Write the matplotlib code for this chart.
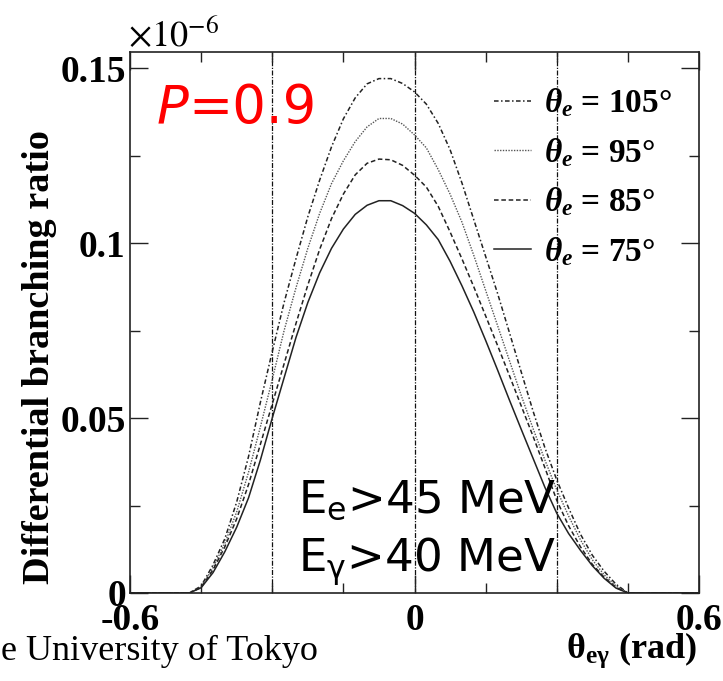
import numpy as np
import matplotlib
matplotlib.use("Agg")
import matplotlib.pyplot as plt
from matplotlib.font_manager import FontProperties
from matplotlib.ticker import FixedLocator

plt.rcParams["axes.unicode_minus"] = False
plt.rcParams["mathtext.fontset"] = "custom"
plt.rcParams["mathtext.rm"] = "Liberation Serif:bold"
plt.rcParams["mathtext.bf"] = "Liberation Serif:bold"
plt.rcParams["mathtext.it"] = "Liberation Serif:italic:bold"

# opening angle between e and gamma (rad)
theta_eg = [-0.600, -0.475, -0.450, -0.425, -0.400, -0.375, -0.350, -0.325, -0.300, -0.275,
            -0.250, -0.225, -0.200, -0.175, -0.150, -0.125, -0.100, -0.075, -0.050, -0.025,
            0.000, 0.025, 0.050, 0.075, 0.100, 0.125, 0.150, 0.175, 0.200, 0.225,
            0.250, 0.275, 0.300, 0.325, 0.350, 0.375, 0.400, 0.425, 0.450, 0.600]

# differential branching ratio (x 1e-6) for each electron angle
br_105 = [0, 0, 0.0020, 0.0080, 0.0155, 0.0260, 0.0390, 0.0545, 0.0690, 0.0830,
          0.0955, 0.1075, 0.1180, 0.1275, 0.1355, 0.1415, 0.1455, 0.1470, 0.1470, 0.1456,
          0.1432, 0.1397, 0.1342, 0.1267, 0.1172, 0.1067, 0.0962, 0.0857, 0.0745, 0.0632,
          0.0520, 0.0415, 0.0323, 0.0243, 0.0168, 0.0108, 0.0062, 0.0025, 0, 0]
br_95 = [0, 0, 0.0017, 0.0072, 0.0142, 0.0232, 0.0345, 0.0475, 0.0610, 0.0750,
         0.0872, 0.0985, 0.1085, 0.1170, 0.1235, 0.1290, 0.1332, 0.1356, 0.1356, 0.1340,
         0.1309, 0.1272, 0.1210, 0.1140, 0.1060, 0.0965, 0.0865, 0.0765, 0.0665, 0.0565,
         0.0470, 0.0380, 0.0295, 0.0220, 0.0152, 0.0095, 0.0052, 0.0020, 0, 0]
br_85 = [0, 0, 0.0016, 0.0066, 0.0132, 0.0212, 0.0310, 0.0425, 0.0540, 0.0655,
         0.0770, 0.0880, 0.0982, 0.1070, 0.1140, 0.1195, 0.1228, 0.1240, 0.1238, 0.1222,
         0.1194, 0.1160, 0.1105, 0.1032, 0.0955, 0.0875, 0.0792, 0.0708, 0.0622, 0.0535,
         0.0448, 0.0358, 0.0265, 0.0192, 0.0132, 0.0082, 0.0045, 0.0016, 0, 0]
br_75 = [0, 0, 0.0015, 0.0058, 0.0118, 0.0188, 0.0272, 0.0380, 0.0500, 0.0615,
         0.0730, 0.0830, 0.0915, 0.0985, 0.1040, 0.1082, 0.1108, 0.1121, 0.1121, 0.1107,
         0.1085, 0.1052, 0.1010, 0.0948, 0.0878, 0.0803, 0.0722, 0.0638, 0.0552, 0.0468,
         0.0385, 0.0302, 0.0228, 0.0170, 0.0122, 0.0078, 0.0042, 0.0014, 0, 0]

electron_angles = ["105", "95", "85", "75"]
guide_angles = [-0.3, 0.0, 0.3]

x_major = [-0.6, 0.0, 0.6]
x_major_labels = ["-0.6", "0", "0.6"]
x_minor = [-0.45, -0.3, -0.15, 0.15, 0.3, 0.45]
y_major = [0.0, 0.05, 0.1, 0.15]
y_major_labels = ["0", "0.05", "0.1", "0.15"]
y_minor = [0.025, 0.075, 0.125]

W, H = 723, 681
fig = plt.figure(figsize=(W / 100, H / 100), dpi=100)
ax = fig.add_axes([130 / W, 1 - 593 / H, 569 / W, 541 / H])

curve_styles = [
    dict(linestyle=(0, (3.0, 1.6, 1.0, 1.6)), color="#222222", lw=1.1),
    dict(linestyle=(0, (1.0, 1.0)), color="#555555", lw=1.0),
    dict(linestyle=(0, (3.0, 1.8)), color="#222222", lw=1.1),
    dict(linestyle="-", color="#222222", lw=1.1),
]
series = [br_105, br_95, br_85, br_75]

handles = []
for vals, ang, st in zip(series, electron_angles, curve_styles):
    h, = ax.plot(theta_eg, vals, label=r"$\theta_e$ = " + ang + "°", **st)
    handles.append(h)

for g in guide_angles:
    ax.axvline(g, color="#111111", lw=0.9, linestyle=(0, (4.0, 1.2, 1.0, 1.2)), zorder=1)

ax.set_xlim(-0.6, 0.6)
ax.set_ylim(0, 0.1546)

tick_font = FontProperties(family="Liberation Serif", weight="bold", size=27)

ax.xaxis.set_major_locator(FixedLocator(x_major))
ax.xaxis.set_minor_locator(FixedLocator(x_minor))
ax.set_xticklabels(x_major_labels, fontproperties=tick_font)
ax.yaxis.set_major_locator(FixedLocator(y_major))
ax.yaxis.set_minor_locator(FixedLocator(y_minor))
ax.set_yticklabels(y_major_labels, fontproperties=tick_font)

ax.tick_params(which="both", direction="in", top=True, right=True, color="#222222", width=1.0)
ax.tick_params(which="major", length=13)
ax.tick_params(axis="x", which="major", pad=7)
ax.tick_params(axis="y", which="major", pad=3)
ax.tick_params(which="minor", length=7)
for s in ax.spines.values():
    s.set_linewidth(1.2)
    s.set_color("#222222")

leg_prop = FontProperties(family="Liberation Serif", weight="bold", size=24, math_fontfamily="custom")
ax.legend(handles=handles, loc="upper left", bbox_to_anchor=(0.628, 0.948),
          prop=leg_prop, frameon=False, handlelength=1.1, handletextpad=0.4,
          labelspacing=0.5, borderaxespad=0, borderpad=0.2)

# multiplier of the y axis
fig.text(128 / W, 1 - 46 / H, r"$\times10^{-6}$", fontsize=26, math_fontfamily="stix",
         ha="left", va="baseline")

# polarisation
p_txt = fig.text(157 / W, 1 - 134 / H, "P", fontsize=38, family="DejaVu Sans",
                 style="italic", color="red", ha="left", va="bottom")
ax.annotate("=0.9", xy=(1, 0), xycoords=p_txt, fontsize=38, family="DejaVu Sans",
            color="red", ha="left", va="bottom", annotation_clip=False)

# energy cuts
fig.text(298 / W, 1 - 513 / H, r"E$_{\mathregular{e}}$>45 MeV", fontsize=32.5,
         family="DejaVu Sans", math_fontfamily="dejavusans", ha="left", va="baseline")
fig.text(298 / W, 1 - 572 / H, r"E$_{\mathregular{\gamma}}$>40 MeV", fontsize=32.5,
         family="DejaVu Sans", math_fontfamily="dejavusans", ha="left", va="baseline")

fig.text(40 / W, 1 - 357 / H, "Differential branching ratio", rotation=90,
         family="Liberation Serif", weight="bold", fontsize=27.5, ha="center", va="center")

fig.text(697 / W, 1 - 658 / H, r"θ$_{\mathbf{e\gamma}}$ (rad)", family="Liberation Serif",
         weight="bold", fontsize=26, math_fontfamily="custom", ha="right", va="baseline")

fig.text(1 / W, 1 - 660 / H, "e University of Tokyo", family="Liberation Serif",
         fontsize=26, ha="left", va="baseline")

fig.savefig("out.png", dpi=100)
